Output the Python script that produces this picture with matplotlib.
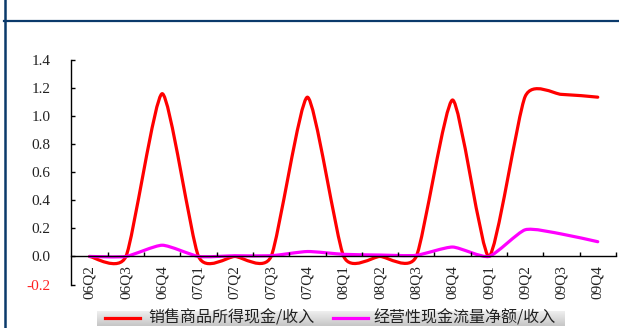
import numpy as np
import matplotlib
matplotlib.use('Agg')
import matplotlib.pyplot as plt
from matplotlib.path import Path
from matplotlib.patches import PathPatch
from matplotlib.lines import Line2D

# quarterly ratios
quarters = ['06Q2', '06Q3', '06Q4', '07Q1', '07Q2', '07Q3', '07Q4', '08Q1',
            '08Q2', '08Q3', '08Q4', '09Q1', '09Q2', '09Q3', '09Q4']
cash_from_sales = [0.0, 0.0, 1.16, 0.0, 0.0, 0.0, 1.135, 0.0,
                   0.0, 0.0, 1.115, 0.0, 1.14, 1.155, 1.135]
op_cash_flow = [0.0, 0.0, 0.08, 0.0, 0.005, 0.005, 0.035, 0.015,
                0.01, 0.008, 0.067, 0.0, 0.19, 0.16, 0.105]
series_names = ['销售商品所得现金/收入', '经营性现金流量净额/收入']
yticks = [-0.2, 0.0, 0.2, 0.4, 0.6, 0.8, 1.0, 1.2, 1.4]

NAVY = '#0b3a6b'
CJK = ['Noto Sans CJK SC', 'DejaVu Sans']


def smooth_path(xs, ys, k=0.6):
    # Catmull-Rom style cubic bezier through the points
    n = len(xs)
    verts = [(xs[0], ys[0])]
    codes = [Path.MOVETO]
    for i in range(n - 1):
        a = max(i - 1, 0)
        b = min(i + 2, n - 1)
        c1 = (xs[i] + (xs[i + 1] - xs[a]) / 6 * k, ys[i] + (ys[i + 1] - ys[a]) / 6 * k)
        c2 = (xs[i + 1] - (xs[b] - xs[i]) / 6 * k, ys[i + 1] - (ys[b] - ys[i]) / 6 * k)
        verts += [c1, c2, (xs[i + 1], ys[i + 1])]
        codes += [Path.CURVE4] * 3
    return Path(verts, codes)


fig = plt.figure(figsize=(6.19, 3.28), dpi=100)
ax = fig.add_axes([0.1155, 0.1326, 0.8795, 0.6845])

x = np.arange(len(quarters))
for vals, color in [(cash_from_sales, '#ff0000'), (op_cash_flow, '#ff00ff')]:
    ax.add_patch(PathPatch(smooth_path(x, vals), facecolor='none',
                           edgecolor=color, lw=2.3, capstyle='round', joinstyle='round'))

ax.set_xlim(-0.5, len(quarters) - 0.5)
ax.set_ylim(-0.2, 1.4)

for s in ['top', 'right']:
    ax.spines[s].set_visible(False)
ax.spines['bottom'].set_position(('data', 0))
ax.spines['left'].set_linewidth(1.0)
ax.spines['bottom'].set_linewidth(1.0)

# category labels centred, tick marks between categories
ax.set_xticks(x)
ax.set_xticklabels(quarters, rotation=90, family='Liberation Serif', fontsize=11, color='#222222')
ax.tick_params(axis='x', which='major', length=0, pad=6)
ax.set_xticks(np.arange(0.5, len(quarters), 1), minor=True)
ax.tick_params(axis='x', which='minor', direction='in', length=3, width=1)

ax.set_yticks(yticks)
ax.set_yticklabels([f'{v:.1f}' for v in yticks], family='Liberation Serif', fontsize=11, color='#222222')
ax.get_yticklabels()[0].set_color('#ff2020')
ax.tick_params(axis='y', direction='in', length=3, width=1, pad=15)

# frame lines around the panel
fig.add_artist(Line2D([4.5 / 619, 4.5 / 619], [0, 1], color=NAVY, lw=1.8))
fig.add_artist(Line2D([4 / 619, 1], [1 - 20.5 / 328, 1 - 20.5 / 328], color=NAVY, lw=1.6))

# legend strip with gray gradient
lax = fig.add_axes([97 / 619, 2 / 328, (565 - 97) / 619, 15.5 / 328])
grad = np.linspace(0, 1, 64).reshape(-1, 1)
lax.imshow(grad, cmap=matplotlib.colors.LinearSegmentedColormap.from_list('g', ['#f2f2f2', '#c6c6c6']),
           aspect='auto', extent=[0, 1, 0, 1])
lax.set_xlim(0, 1)
lax.set_ylim(0, 1)
lax.axis('off')

ly = 1 - 318 / 328
fig.add_artist(Line2D([105 / 619, 140 / 619], [ly, ly], color='#ff0000', lw=2.3))
fig.text(148 / 619, ly, series_names[0], family=CJK, fontsize=11.5, color='#222222', va='center')
fig.add_artist(Line2D([333 / 619, 368 / 619], [ly, ly], color='#ff00ff', lw=2.3))
fig.text(373 / 619, ly, series_names[1], family=CJK, fontsize=11.5, color='#222222', va='center')

fig.savefig('out.png', dpi=100)
